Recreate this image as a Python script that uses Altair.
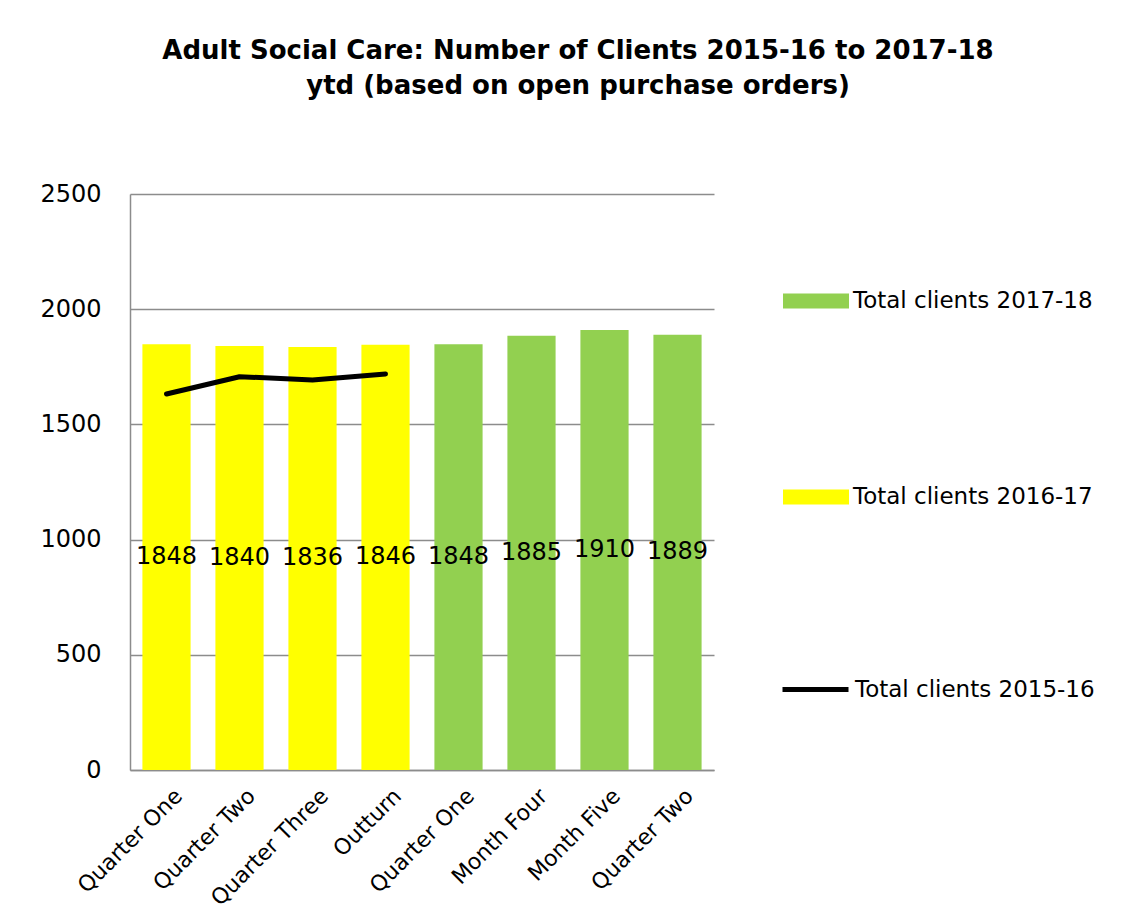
import altair as alt
import pandas as pd

categories = ["Quarter One", "Quarter Two", "Quarter Three", "Outturn",
              "Quarter One", "Month Four", "Month Five", "Quarter Two"]
bar_series = ["Total clients 2016-17"] * 4 + ["Total clients 2017-18"] * 4
bar_values = [1848, 1840, 1836, 1846, 1848, 1885, 1910, 1889]
line_values_2015 = [1632, 1707, 1693, 1719]
bar_order = ["Total clients 2017-18", "Total clients 2016-17"]
bar_colors = ["#92D050", "#FFFF00"]
line_name = "Total clients 2015-16"
y_ticks = [0, 500, 1000, 1500, 2000, 2500]

keys = [f"{i}|{c}" for i, c in enumerate(categories)]
bars = pd.DataFrame({"key": keys, "series": bar_series, "value": bar_values})
bars["mid"] = bars["value"] / 2
line = pd.DataFrame({"key": keys[:4], "series": line_name, "value": line_values_2015})

FONT = "DejaVu Sans"
GRID = "#8c8c8c"

x_enc = alt.X("key:N", sort=keys, title=None,
              scale=alt.Scale(paddingInner=0.34, paddingOuter=0.17),
              axis=alt.Axis(labelExpr="split(datum.label, '|')[1]", labelAngle=-45,
                            labelFontSize=22, labelFont=FONT, labelColor="black",
                            ticks=False, labelPadding=15, labelOffset=5,
                            domainColor=GRID, domainWidth=1.5, grid=False,
                            labelLimit=400))
y_scale = alt.Scale(domain=[0, 2500], nice=False)

rect_path = "M-1,-0.23L1,-0.23L1,0.23L-1,0.23Z"

bar_legend = alt.Legend(
    title=None, orient="none", legendX=653, legendY=74, padding=0,
    symbolType=rect_path, symbolSize=4356, rowPadding=151, labelOffset=4,
    labelFontSize=23, labelFont=FONT, labelColor="black", symbolStrokeWidth=0,
    symbolOpacity=1, labelLimit=400,
)
line_legend = alt.Legend(
    title=None, orient="none", legendX=650, legendY=460, padding=0,
    symbolType="stroke", symbolSize=4356, labelOffset=4, symbolStrokeWidth=5,
    labelFontSize=23, labelFont=FONT, labelColor="black", symbolOpacity=1,
    labelLimit=400,
)

bar_layer = alt.Chart(bars).mark_bar(strokeWidth=0).encode(
    x=x_enc,
    y=alt.Y("value:Q", scale=y_scale, title=None,
            axis=alt.Axis(values=y_ticks, format="d", labelFontSize=24, labelFont=FONT,
                          labelColor="black", ticks=False, labelPadding=29,
                          domainColor=GRID, domainWidth=1.5, gridColor=GRID,
                          gridWidth=1.5)),
    fill=alt.Fill("series:N", scale=alt.Scale(domain=bar_order, range=bar_colors),
                  legend=bar_legend),
)

label_layer = alt.Chart(bars).mark_text(fontSize=24, font=FONT, color="black",
                                        baseline="middle").encode(
    x=alt.X("key:N", sort=keys),
    y=alt.Y("mid:Q", scale=y_scale),
    text=alt.Text("value:Q"),
)

line_layer = alt.Chart(line).mark_line(strokeWidth=5, strokeCap="round",
                                       strokeJoin="round").encode(
    x=alt.X("key:N", sort=keys),
    y=alt.Y("value:Q", scale=y_scale),
    stroke=alt.Stroke("series:N", scale=alt.Scale(domain=[line_name], range=["#000000"]),
                      legend=line_legend),
)

chart = alt.layer(bar_layer, line_layer, label_layer).resolve_scale(
    fill="independent", stroke="independent"
).properties(
    width=584, height=576,
    autosize=alt.AutoSizeParams(type="none"),
    padding={"left": 122, "top": 186, "right": 414, "bottom": 141},
    title=alt.TitleParams(
        text=["Adult Social Care: Number of Clients  2015-16  to 2017-18",
              "ytd (based on open purchase orders)"],
        fontSize=26, font=FONT, fontWeight="bold", color="black",
        anchor="middle", dx=156, offset=83, lineHeight=35,
    ),
).configure(background="white").configure_view(strokeWidth=0, stroke="transparent")

chart.save("out.html", embed_options={"renderer": "svg", "actions": False})
